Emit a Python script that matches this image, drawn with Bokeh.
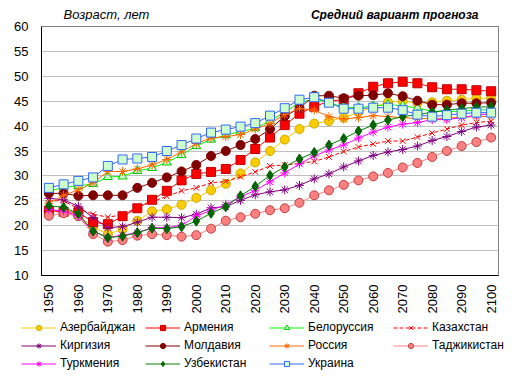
import math
from bokeh.plotting import figure
from bokeh.layouts import column
from bokeh.models import (Range1d, FixedTicker, Legend, LegendItem, Label,
                          ColumnDataSource)
from bokeh.embed import file_html
from bokeh.resources import INLINE

years = list(range(1950, 2101, 5))

azerbaijan = [23.0, 22.8, 22.0, 19.8, 18.3, 19.3, 21.0, 22.9, 23.3, 24.2, 25.6, 27.1, 28.4, 30.5, 32.7,
              35.0, 37.3, 39.4, 40.5, 41.0, 41.7, 42.8, 43.8, 44.8, 45.0, 44.6, 44.8, 45.1, 45.3, 45.6, 45.6]
armenia = [23.0, 22.8, 22.7, 20.7, 20.3, 21.9, 23.5, 25.2, 27.0, 29.1, 30.4, 30.8, 31.4, 33.2, 35.4,
           37.7, 40.2, 42.5, 43.9, 45.0, 45.3, 46.6, 47.9, 48.6, 48.9, 48.6, 47.8, 47.4, 47.4, 47.2, 47.0]
belarus = [26.9, 27.7, 28.0, 28.4, 29.8, 29.9, 31.0, 31.6, 32.7, 34.2, 36.0, 37.3, 38.2, 38.9, 39.6,
           41.0, 42.8, 44.7, 45.5, 44.7, 43.8, 43.7, 44.0, 44.3, 44.1, 43.6, 43.0, 42.9, 43.0, 43.2, 43.3]
kazakhstan = [25.0, 25.0, 23.4, 22.3, 21.7, 22.2, 23.7, 24.8, 25.9, 27.0, 27.6, 28.6, 28.9, 29.8, 30.8,
              32.0, 32.2, 32.5, 32.9, 33.8, 34.9, 35.8, 36.4, 37.0, 37.0, 37.8, 38.6, 39.4, 40.2, 40.7, 41.0]
kyrgyzstan = [25.5, 25.2, 23.9, 21.6, 19.6, 19.8, 20.7, 21.7, 21.7, 21.6, 22.3, 23.6, 23.8, 25.1, 26.2,
              26.8, 27.2, 28.1, 29.4, 30.4, 31.8, 33.0, 34.1, 34.8, 35.3, 36.0, 37.1, 37.9, 38.9, 39.8, 40.2]
moldova = [26.5, 26.5, 26.0, 26.1, 26.1, 26.1, 27.6, 28.6, 29.7, 30.9, 32.2, 34.0, 35.0, 36.2, 37.4,
           39.4, 42.0, 43.6, 46.1, 46.1, 45.6, 46.1, 46.2, 46.6, 46.0, 45.1, 44.3, 44.3, 44.6, 44.6, 44.7]
russia = [24.5, 26.1, 27.2, 28.6, 30.9, 30.9, 31.4, 32.2, 33.3, 34.8, 36.5, 37.6, 37.9, 38.3, 39.4,
          40.5, 42.3, 43.5, 43.2, 41.9, 41.4, 41.7, 42.1, 41.9, 41.7, 41.5, 41.5, 41.6, 41.8, 41.9, 42.0]
tajikistan = [22.0, 22.5, 21.9, 18.3, 16.8, 17.1, 18.0, 18.3, 18.1, 17.8, 18.1, 19.4, 21.0, 21.7, 22.4,
              23.1, 23.5, 24.6, 26.1, 27.1, 28.2, 29.1, 29.9, 30.6, 31.7, 32.6, 33.8, 35.0, 36.0, 36.8, 37.7]
turkmenistan = [23.3, 22.9, 22.0, 18.9, 17.6, 18.1, 18.6, 19.6, 19.6, 20.1, 21.9, 23.1, 24.2, 25.8, 27.1,
                28.8, 30.6, 32.4, 34.0, 35.2, 36.2, 37.6, 38.8, 39.8, 40.4, 40.7, 41.3, 41.3, 41.7, 42.2, 42.5]
uzbekistan = [24.0, 23.7, 22.4, 18.9, 17.6, 17.9, 18.6, 19.5, 19.4, 19.8, 20.9, 22.5, 23.8, 26.0, 27.9,
              30.1, 31.8, 33.4, 34.7, 36.2, 37.5, 39.0, 40.2, 41.2, 41.9, 42.3, 42.8, 43.2, 43.5, 43.8, 43.9]
ukraine = [27.6, 28.3, 29.0, 29.7, 32.0, 33.3, 33.5, 33.8, 35.0, 36.2, 37.5, 38.7, 39.3, 39.9, 40.6,
           42.1, 43.6, 45.3, 45.8, 44.7, 43.5, 43.5, 43.7, 43.7, 43.2, 42.3, 41.9, 42.2, 42.5, 42.7, 42.7]

names = ["Азербайджан", "Армения", "Белоруссия", "Казахстан", "Киргизия", "Молдавия",
         "Россия", "Таджикистан", "Туркмения", "Узбекистан", "Украина"]
series = [azerbaijan, armenia, belarus, kazakhstan, kyrgyzstan, moldova,
          russia, tajikistan, turkmenistan, uzbekistan, ukraine]

tick_years = list(range(1950, 2101, 10))
y_ticks = list(range(10, 61, 5))
title_left = "Возраст, лет"
title_right = "Средний вариант прогноза"

# style: line color, line dash, marker, size, fill, outline
styles = [
    ("#FFCC00", "solid", "circle", 9, "#FFCC00", "#C8A800"),
    ("#FF0000", "solid", "square", 9, "#FF0000", "#C00000"),
    ("#00FF00", "solid", "triangle", 9, "#CCFFCC", "#00CC00"),
    ("#FF0000", "4 2", "x", 8, None, "#FF0000"),
    ("#800080", "solid", "asterisk", 9, None, "#800080"),
    ("#800000", "solid", "circle", 9, "#800000", "#800000"),
    ("#FF6600", "solid", "asterisk", 9, None, "#FF6600"),
    ("#FF8080", "solid", "circle", 9, "#FF8080", "#C04040"),
    ("#FF00FF", "solid", "asterisk", 9, None, "#FF00FF"),
    ("#008000", "solid", "diamond", 10, "#006400", "#006400"),
    ("#3366FF", "solid", "square", 9, "#CCFFCC", "#3366FF"),
]

FONT = "Liberation Sans"
W = 507
TOP_H = 21
OVERLAP = 8
MAIN_TOP = 13
MAIN_H = 303
LEG_H = 57


def blank(height):
    f = figure(width=W, height=height, output_backend="svg", toolbar_location=None,
               min_border=0, x_axis_location=None, y_axis_location=None,
               x_range=Range1d(0, 1), y_range=Range1d(0, 1), frame_align=False)
    f.outline_line_color = None
    f.xgrid.grid_line_color = None
    f.ygrid.grid_line_color = None
    f.background_fill_color = "white"
    f.border_fill_color = "white"
    return f


# top strip with the two header texts
top = blank(TOP_H)
top.add_layout(Label(x=63, y=7, x_units="screen", y_units="screen", text=title_left,
                     text_font=FONT, text_font_size="13px", text_font_style="italic",
                     text_baseline="alphabetic", text_align="left", text_color="black"))
top.add_layout(Label(x=478, y=7, x_units="screen", y_units="screen", text=title_right,
                     text_font=FONT, text_font_size="12px", text_font_style="bold italic",
                     text_baseline="alphabetic", text_align="right", text_color="black"))

# main chart (its transparent top border overlaps the header strip a little)
p = figure(width=W, height=MAIN_H, output_backend="svg", toolbar_location=None,
           min_border_left=41, min_border_right=9, min_border_top=MAIN_TOP,
           min_border_bottom=MAIN_H - MAIN_TOP - 255, frame_align=False,
           x_range=Range1d(1947.5, 2102.5), y_range=Range1d(10, 60))
p.margin = (-OVERLAP, 0, 0, 0)
p.background_fill_color = "white"
p.border_fill_alpha = 0
p.outline_line_color = "#808080"
p.outline_line_width = 1
p.xgrid.grid_line_color = None
p.ygrid.grid_line_color = "#C0C0C0"
p.ygrid.grid_line_width = 1
p.yaxis.ticker = FixedTicker(ticks=y_ticks)
p.xaxis.ticker = FixedTicker(ticks=tick_years)
p.xaxis.major_label_orientation = math.pi / 2
for ax in (p.xaxis, p.yaxis):
    ax.axis_line_color = "black"
    ax.axis_line_width = 1
    ax.major_tick_line_color = None
    ax.minor_tick_line_color = None
    ax.major_label_text_font = FONT
    ax.major_label_text_font_size = "13px"
    ax.major_label_text_color = "black"
p.yaxis.major_label_standoff = 7
p.xaxis.major_label_standoff = 3

# legend strip
leg = blank(LEG_H)

items = []
for name, vals, st in zip(names, series, styles):
    lc, dash, marker, size, fill, outline = st
    src = ColumnDataSource(dict(x=years, y=vals))
    kw = dict(marker=marker, size=size, line_color=outline, line_width=1)
    if fill is None:
        kw["fill_alpha"] = 0
    else:
        kw["fill_color"] = fill
    p.line("x", "y", source=src, line_color=lc, line_width=1, line_dash=dash)
    p.scatter("x", "y", source=src, **kw)
    # same series in the legend strip (outside its range, only the legend shows)
    lr = leg.line("x", "y", source=src, line_color=lc, line_width=1, line_dash=dash)
    sr = leg.scatter("x", "y", source=src, **kw)
    items.append(LegendItem(label=name, renderers=[lr, sr]))

legend = Legend(items=items, location=(21, 1), orientation="horizontal", ncols=4,
                glyph_width=35, glyph_height=13, label_height=18, label_width=85,
                label_standoff=4, spacing=0, padding=0, margin=0,
                border_line_color=None, background_fill_alpha=0,
                label_text_font=FONT, label_text_font_size="12px",
                label_text_color="black")
leg.add_layout(legend, "center")

layout = column(top, p, leg, spacing=0)
open("out.html", "w").write(file_html(layout, INLINE))
